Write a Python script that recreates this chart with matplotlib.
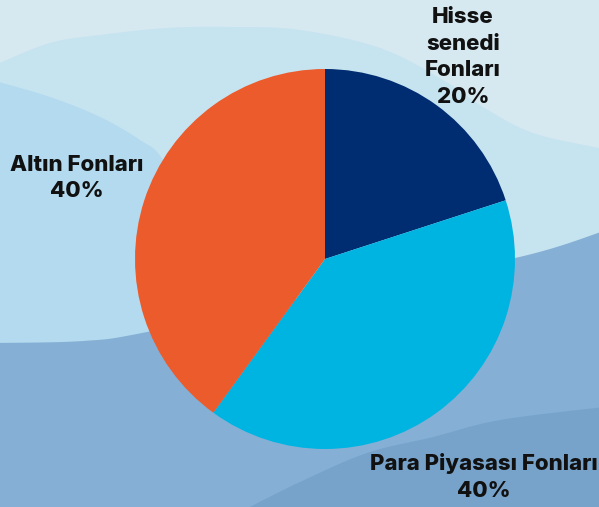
import numpy as np
import matplotlib
matplotlib.use("Agg")
import matplotlib.pyplot as plt

categories = ["Hisse\nsenedi\nFonları", "Para Piyasası Fonları", "Altın Fonları"]
values = [20, 40, 40]
colors = ["#002d72", "#00b4e2", "#eb5b2b"]

W, H = 599, 507
fig = plt.figure(figsize=(W / 100, H / 100), dpi=100)
ax = fig.add_axes([0, 0, 1, 1])


def curve(pts, n=300):
    # smooth curve through points (image coords, y down) via Catmull-Rom
    pts = np.array(pts, float)
    p = np.vstack([pts[0], pts, pts[-1]])
    out = []
    for i in range(1, len(p) - 2):
        p0, p1, p2, p3 = p[i - 1], p[i], p[i + 1], p[i + 2]
        t = np.linspace(0, 1, n)[:, None]
        seg = 0.5 * ((2 * p1) + (-p0 + p2) * t + (2 * p0 - 5 * p1 + 4 * p2 - p3) * t ** 2
                     + (-p0 + 3 * p1 - 3 * p2 + p3) * t ** 3)
        out.append(seg)
    c = np.vstack(out)
    return c[:, 0], H - c[:, 1]


# background
ax.add_patch(plt.Rectangle((0, 0), W, H, color="#d6e8f0", zorder=0))
# wave 2
x, y = curve([(-5, 65), (50, 43), (100, 35), (167, 28), (233, 27), (300, 30),
              (380, 48), (443, 80), (483, 107), (533, 133), (604, 149)])
ax.fill_between(x, y, 0, color="#c6e3f0", zorder=1, lw=0)
# left blob
x, y = curve([(-5, 81), (50, 97), (100, 117), (140, 140), (163, 160), (200, 230), (220, 330), (225, 420)])
ax.fill(np.r_[x, -5], np.r_[y, H - 420], color="#b3daee", zorder=2, lw=0)
# darker band
x, y = curve([(-5, 343), (83, 341), (147, 332), (330, 292), (515, 258), (604, 231)])
ax.fill_between(x, y, 0, color="#85afd5", zorder=3, lw=0)
# darkest bottom right
x, y = curve([(240, 512), (300, 482), (367, 453), (433, 437), (500, 420), (604, 407)])
ax.fill(np.r_[x, 604], np.r_[y, -5], color="#77a3cb", zorder=4, lw=0)

# pie
cx, cy, r = 325, H - 259, 190
wedges, _ = ax.pie(values, colors=colors, startangle=90, counterclock=False,
                   center=(cx, cy), radius=r, frame=True,
                   wedgeprops=dict(linewidth=0))
for w in wedges:
    w.set_zorder(5)
ax.set_xlim(0, W)
ax.set_ylim(0, H)
ax.axis("off")

font = dict(family=["Inter", "DejaVu Sans"], fontweight="heavy", fontsize=16,
            color="#111111", ha="center", va="center", zorder=10, linespacing=1.4)
label_pos = [(463, 57), (484, 477), (77, 178)]
for cat, val, (lx, ly) in zip(categories, values, label_pos):
    ax.text(lx, H - ly, f"{cat}\n{val}%", **font)

fig.savefig("out.png", dpi=100)
